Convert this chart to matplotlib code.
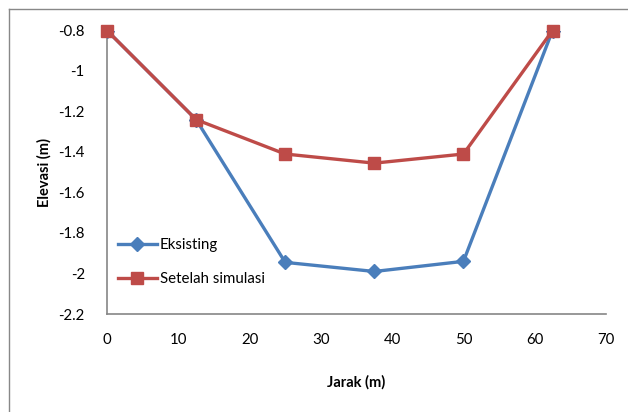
import matplotlib
matplotlib.use("Agg")
import matplotlib.pyplot as plt
from matplotlib.lines import Line2D

# Cross-section profile data
jarak = [0, 12.5, 25, 37.5, 50, 62.5]
eksisting = [-0.8, -1.24, -1.945, -1.99, -1.94, -0.8]
setelah_simulasi = [-0.8, -1.24, -1.41, -1.455, -1.41, -0.8]

x_ticks = [0, 10, 20, 30, 40, 50, 60, 70]
y_ticks = [-2.2, -2.0, -1.8, -1.6, -1.4, -1.2, -1.0, -0.8]
y_tick_labels = ["-2.2", "-2", "-1.8", "-1.6", "-1.4", "-1.2", "-1", "-0.8"]

plt.rcParams["font.family"] = ["Lato", "DejaVu Sans"]

W, H = 628, 412
fig = plt.figure(figsize=(W / 100, H / 100), dpi=100)
fig.patch.set_facecolor("white")

ax = fig.add_axes([107 / W, 1 - 314 / H, (606 - 107) / W, (314 - 30.5) / H])

blue = "#4A7EBB"
red = "#BE4B48"

ax.plot(jarak, eksisting, color=blue, lw=2.4, marker="D", ms=7.5,
        markerfacecolor=blue, markeredgecolor=blue, label="Eksisting",
        zorder=3)
ax.plot(jarak, setelah_simulasi, color=red, lw=2.4, marker="s", ms=9.3,
        markerfacecolor=red, markeredgecolor=red, label="Setelah simulasi",
        zorder=4, clip_on=False)

ax.set_xlim(0, 70)
ax.set_ylim(-2.2, -0.8)
ax.set_xticks(x_ticks)
ax.set_yticks(y_ticks)
ax.set_yticklabels(y_tick_labels)
ax.tick_params(axis="both", length=0, labelsize=10.8, colors="black")
ax.tick_params(axis="x", pad=14)
ax.tick_params(axis="y", pad=16)

for side in ("top", "right"):
    ax.spines[side].set_visible(False)
for side in ("left", "bottom"):
    ax.spines[side].set_color("#868686")
    ax.spines[side].set_linewidth(1.2)

ax.set_xlabel("Jarak (m)", fontsize=10.5, fontweight="bold", labelpad=20)
ax.set_ylabel("Elevasi (m)", fontsize=10.5, fontweight="bold", labelpad=5)

leg = ax.legend(loc="lower left", bbox_to_anchor=(0.0, 0.06), frameon=False,
                fontsize=10.8, handlelength=2.6, handletextpad=0.2,
                labelspacing=1.35, borderaxespad=0.3)

# Chart-area frame (left and top edges)
fig.add_artist(Line2D([8.5 / W, 8.5 / W], [0, 1 - 9 / H], transform=fig.transFigure,
                      color="#888888", lw=1.0))
fig.add_artist(Line2D([8.5 / W, 1], [1 - 9 / H, 1 - 9 / H], transform=fig.transFigure,
                      color="#888888", lw=1.0))

fig.savefig("out.png", dpi=100, facecolor="white")
